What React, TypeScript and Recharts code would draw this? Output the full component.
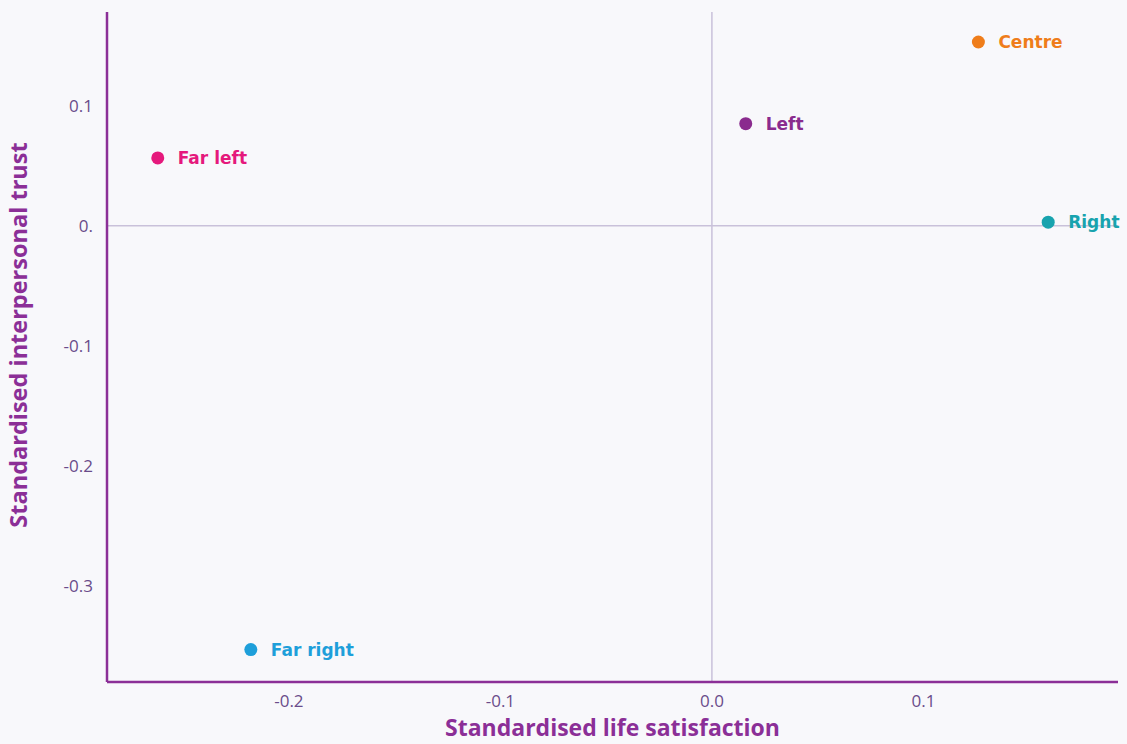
import React from 'react';
import {
  ScatterChart,
  Scatter,
  XAxis,
  YAxis,
  ReferenceLine,
  Cell,
  LabelList,
  Label,
} from 'recharts';

const groups = ['Far left', 'Left', 'Centre', 'Right', 'Far right'];
const lifeSatisfaction = [-0.262, 0.016, 0.126, 0.159, -0.218];
const interpersonalTrust = [0.0565, 0.085, 0.153, 0.003, -0.353];
const groupColors = ['#E5197C', '#8A2B8E', '#EF7D1A', '#18A3AE', '#1E9FDA'];

const xTicks = [-0.2, -0.1, 0, 0.1];
const yTicks = [-0.3, -0.2, -0.1, 0, 0.1];

const data = groups.map((name, i) => ({
  name,
  x: lifeSatisfaction[i],
  y: interpersonalTrust[i],
  color: groupColors[i],
}));

const AXIS = '#8B2F97';
const TICK = '#6A4C8A';
const FONT = '"Open Sans", Lato, sans-serif';

const Dot = (props: any) => (
  <circle cx={props.cx} cy={props.cy} r={6.5} fill={props.fill} />
);

const PointLabel = (props: any) => {
  const { x, y, width, height, index } = props;
  const cx = x + width / 2;
  const cy = y + height / 2;
  return (
    <text
      x={cx + 20}
      y={cy}
      dy="0.36em"
      fill={groupColors[index]}
      fontSize={17}
      fontWeight={700}
      fontFamily='"DejaVu Sans", sans-serif'
    >
      {groups[index]}
    </text>
  );
};

const XTitle = (props: any) => {
  const { viewBox } = props;
  const cx = viewBox.x + viewBox.width / 2;
  return (
    <text
      x={cx}
      y={736}
      textAnchor="middle"
      fill={AXIS}
      fontSize={23}
      fontWeight={700}
      fontFamily={FONT}
    >
      Standardised life satisfaction
    </text>
  );
};

const YTitle = (props: any) => {
  const { viewBox } = props;
  const cy = viewBox.y + viewBox.height / 2 - 12;
  const tx = 27;
  return (
    <text
      x={tx}
      y={cy}
      transform={`rotate(-90, ${tx}, ${cy})`}
      textAnchor="middle"
      fill={AXIS}
      fontSize={23.5}
      fontWeight={700}
      fontFamily={FONT}
    >
      Standardised interpersonal trust
    </text>
  );
};

const App: React.FC = () => {
  return (
    <div
      style={{
        position: 'absolute',
        left: 0,
        top: 0,
        width: 1127,
        height: 744,
        background: '#F8F8FB',
      }}
    >
      <ScatterChart
        width={1127}
        height={744}
        margin={{ top: 12, right: 9, left: 0, bottom: 0 }}
      >
        <XAxis
          type="number"
          dataKey="x"
          domain={[-0.286, 0.192]}
          ticks={xTicks}
          allowDataOverflow
          tickFormatter={(v: number) => v.toFixed(1)}
          tickLine={false}
          tickSize={0}
          tickMargin={13}
          height={62}
          stroke={AXIS}
          strokeWidth={2.5}
          tick={{ fill: TICK, fontSize: 17, fontFamily: FONT }}
        >
          <Label content={XTitle} />
        </XAxis>
        <YAxis
          type="number"
          dataKey="y"
          domain={[-0.38, 0.178]}
          ticks={yTicks}
          allowDataOverflow
          tickFormatter={(v: number) => (v === 0 ? '0.' : v.toFixed(1))}
          tickLine={false}
          tickSize={0}
          tickMargin={14}
          width={107}
          stroke={AXIS}
          strokeWidth={2.5}
          tick={{ fill: TICK, fontSize: 17, fontFamily: FONT }}
        >
          <Label content={YTitle} />
        </YAxis>
        <ReferenceLine x={0} stroke="#C9C1DA" strokeWidth={1.5} />
        <ReferenceLine y={0} stroke="#C9C1DA" strokeWidth={1.5} />
        <Scatter data={data} isAnimationActive={false} shape={Dot}>
          {data.map((d) => (
            <Cell key={d.name} fill={d.color} />
          ))}
          <LabelList dataKey="name" content={PointLabel} />
        </Scatter>
      </ScatterChart>
    </div>
  );
};

export default App;
